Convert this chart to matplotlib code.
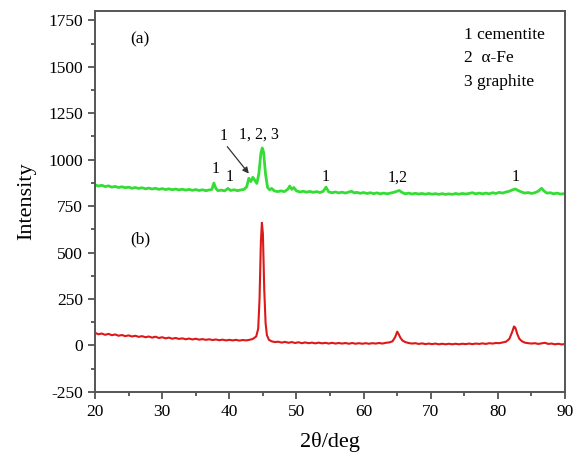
import matplotlib
matplotlib.use("Agg")
import matplotlib.pyplot as plt
from matplotlib.ticker import MultipleLocator

# --- data ---
theta_a = [20.0, 20.5, 21.0, 21.5, 22.0, 22.5, 23.0, 23.5, 24.0, 24.5, 25.0, 25.5, 26.0, 26.5,
           27.0, 27.5, 28.0, 28.5, 29.0, 29.5, 30.0, 30.5, 31.0, 31.5, 32.0, 32.5, 33.0, 33.5,
           34.0, 34.5, 35.0, 35.5, 36.0, 36.5, 37.0, 37.4, 37.7, 38.0, 38.3, 38.8, 39.3, 39.8,
           40.2, 40.7, 41.2, 41.7, 42.2, 42.6, 42.9, 43.2, 43.5, 43.8, 44.1, 44.4, 44.7, 44.9,
           45.1, 45.4, 45.7, 46.0, 46.3, 46.7, 47.2, 47.7, 48.2, 48.7, 49.0, 49.3, 49.6, 50.0,
           50.5, 51.0, 51.5, 52.0, 52.5, 53.0, 53.5, 54.0, 54.4, 54.8, 55.3, 55.8, 56.3, 56.8,
           57.3, 57.8, 58.2, 58.6, 59.0, 59.5, 60.0, 60.5, 61.0, 61.5, 62.0, 62.5, 63.0, 63.5,
           64.0, 64.5, 65.0, 65.3, 65.7, 66.2, 66.7, 67.2, 67.7, 68.2, 68.7, 69.2, 69.7, 70.2,
           70.7, 71.2, 71.7, 72.2, 72.7, 73.2, 73.7, 74.2, 74.7, 75.2, 75.7, 76.2, 76.7, 77.2,
           77.7, 78.2, 78.7, 79.2, 79.7, 80.2, 80.7, 81.2, 81.7, 82.2, 82.6, 83.0, 83.5, 84.0,
           84.5, 85.0, 85.5, 86.0, 86.5, 86.9, 87.3, 87.8, 88.3, 88.8, 89.3, 90.0]
int_a = [865, 858, 862, 855, 859, 852, 856, 850, 854, 849, 852, 846, 850, 845,
         849, 843, 847, 842, 846, 840, 844, 839, 843, 838, 842, 837, 841, 836,
         840, 835, 839, 834, 838, 833, 837, 840, 874, 845, 833, 836, 832, 845,
         834, 838, 833, 837, 840, 855, 900, 882, 905, 888, 872, 925, 1035, 1063,
         1040, 920, 850, 838, 845, 832, 828, 832, 828, 840, 858, 840, 850, 832,
         826, 830, 825, 829, 824, 828, 823, 830, 852, 826, 822, 826, 821, 825,
         820, 826, 830, 821, 824, 819, 823, 818, 822, 817, 821, 816, 820, 816,
         820, 824, 830, 834, 824, 816, 820, 815, 819, 815, 818, 814, 818, 814,
         817, 813, 817, 813, 816, 813, 818, 814, 818, 815, 818, 822, 816, 820,
         816, 820, 816, 822, 818, 824, 820, 826, 830, 838, 842, 834, 826, 820,
         823, 818, 822, 830, 846, 830, 820, 822, 816, 820, 815, 817]

theta_b = [20.0, 20.5, 21.0, 21.5, 22.0, 22.5, 23.0, 23.5, 24.0, 24.5, 25.0, 25.5, 26.0, 26.5,
           27.0, 27.5, 28.0, 28.5, 29.0, 29.5, 30.0, 30.5, 31.0, 31.5, 32.0, 32.5, 33.0, 33.5,
           34.0, 34.5, 35.0, 35.5, 36.0, 36.5, 37.0, 37.5, 38.0, 38.5, 39.0, 39.5, 40.0, 40.5,
           41.0, 41.5, 42.0, 42.5, 43.0, 43.5, 44.0, 44.3, 44.5, 44.7, 44.85, 45.0, 45.2, 45.4,
           45.6, 45.9, 46.3, 46.8, 47.3, 47.8, 48.3, 48.8, 49.3, 49.8, 50.3, 50.8, 51.3, 51.8,
           52.3, 52.8, 53.3, 53.8, 54.3, 54.8, 55.3, 55.8, 56.3, 56.8, 57.3, 57.8, 58.3, 58.8,
           59.3, 59.8, 60.3, 60.8, 61.3, 61.8, 62.3, 62.8, 63.3, 63.8, 64.3, 64.7, 65.0, 65.2,
           65.5, 65.8, 66.2, 66.7, 67.2, 67.7, 68.2, 68.7, 69.2, 69.7, 70.2, 70.7, 71.2, 71.7,
           72.2, 72.7, 73.2, 73.7, 74.2, 74.7, 75.2, 75.7, 76.2, 76.7, 77.2, 77.7, 78.2, 78.7,
           79.2, 79.7, 80.2, 80.7, 81.2, 81.7, 82.1, 82.4, 82.6, 82.9, 83.2, 83.6, 84.0, 84.5,
           85.0, 85.5, 86.0, 86.5, 87.0, 87.5, 88.0, 88.5, 89.0, 89.5, 90.0]
int_b = [68, 60, 64, 57, 62, 55, 59, 52, 56, 50, 54, 48, 52, 46,
         50, 44, 48, 42, 47, 40, 44, 38, 42, 36, 40, 35, 38, 33,
         37, 32, 36, 31, 34, 30, 33, 29, 32, 28, 31, 27, 30, 27,
         30, 26, 29, 27, 30, 35, 48, 90, 250, 560, 660, 600, 300, 120,
         55, 30, 22, 18, 20, 15, 19, 14, 18, 13, 17, 12, 16, 12,
         15, 11, 15, 11, 14, 10, 14, 10, 13, 10, 13, 9, 13, 9,
         12, 9, 12, 9, 12, 10, 13, 10, 14, 16, 22, 45, 74, 62,
         40, 26, 18, 13, 10, 12, 8, 11, 7, 10, 7, 10, 6, 9,
         6, 9, 6, 9, 6, 9, 7, 10, 7, 10, 8, 11, 8, 12,
         10, 13, 12, 16, 20, 35, 70, 102, 95, 60, 35, 22, 15, 12,
         10, 12, 8, 11, 14, 8, 10, 6, 9, 5, 8]

phase_key = ["1 cementite", "2  \u03b1-Fe", "3 graphite"]

# peak labels: (text, 2theta, intensity)
peak_labels = [("1", 37.9, 950), ("1", 40.0, 905), ("1, 2, 3", 44.4, 1135),
               ("1", 54.3, 905), ("1,2", 65.1, 905), ("1", 82.7, 905),
               ("1", 39.2, 1130)]

plt.rcParams['font.family'] = ['Liberation Serif', 'DejaVu Serif']
plt.rcParams['axes.unicode_minus'] = False

fig = plt.figure(figsize=(5.76, 4.61), dpi=100)
ax = fig.add_axes([0.165, 0.150, 0.816, 0.826])

ax.plot(theta_a, int_a, color='#33dd33', lw=2.0)
ax.plot(theta_b, int_b, color='#dd1818', lw=1.5)

ax.set_xlim(20, 90)
ax.set_ylim(-250, 1800)
ax.xaxis.set_major_locator(MultipleLocator(10))
ax.xaxis.set_minor_locator(MultipleLocator(5))
ax.yaxis.set_major_locator(MultipleLocator(250))
ax.yaxis.set_minor_locator(MultipleLocator(125))
ax.tick_params(which='both', direction='out', top=False, right=False,
               labelsize=12.5, color='#444444', width=1.2)
ax.tick_params(which='major', length=5)
ax.tick_params(which='minor', length=3)
for s in ax.spines.values():
    s.set_color('#555555')
    s.set_linewidth(1.4)

ax.set_xlabel('2\u03b8/deg', fontsize=16, labelpad=9)
ax.set_ylabel('Intensity', fontsize=16, labelpad=9)

ax.text(26.7, 1650, '(a)', fontsize=12.5, ha='center', va='center')
ax.text(26.7, 570, '(b)', fontsize=12.5, ha='center', va='center')

for i, s in enumerate(phase_key):
    ax.text(75.0, 1670 - i * 125, s, fontsize=12.5, ha='left', va='center')

for txt, x, y in peak_labels:
    ax.text(x, y, txt, fontsize=11.5, ha='center', va='center')

ax.annotate('', xy=(42.9, 925), xytext=(39.7, 1070),
            arrowprops=dict(arrowstyle='-|>', color='#333333', lw=0.9,
                            shrinkA=0, shrinkB=0, mutation_scale=9))

fig.savefig('out.png', dpi=100)
